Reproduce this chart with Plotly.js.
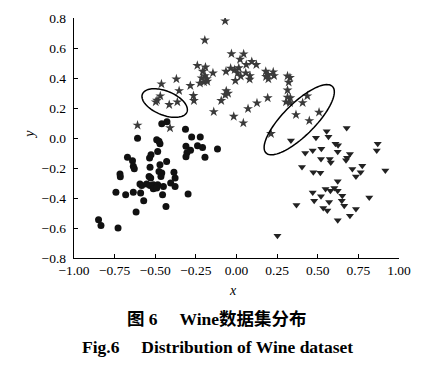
<!DOCTYPE html>
<html>
<head>
<meta charset="utf-8">
<script src="https://cdn.plot.ly/plotly-3.0.1.min.js"></script>
<style>html,body{margin:0;padding:0;background:#fff;}#chart{width:432px;height:372px;}</style>
</head>
<body>
<div id="chart"></div>
<script>
// ---- data ----
const starX = [-0.609,-0.462,-0.370,-0.353,-0.469,-0.489,-0.497,-0.414,-0.364,-0.409,-0.284,-0.265,-0.262,-0.241,-0.191,-0.208,-0.194,-0.215,-0.225,-0.180,-0.200,-0.182,-0.195,-0.145,-0.140,-0.094,-0.070,-0.065,-0.063,-0.052,-0.069,-0.031,-0.036,-0.017,-0.011,0.014,0.007,0.022,0.044,0.094,0.060,0.122,0.026,0.057,0.083,0.081,-0.007,0.180,0.194,0.226,0.231,0.182,0.196,0.314,0.329,0.321,0.314,0.314,0.331,0.305,0.329,0.126,0.192,0.071,0.042,0.366,0.212,0.407,0.436,0.508,0.448];
const starY = [0.085,0.360,0.393,0.315,0.280,0.251,0.240,0.222,0.240,0.067,0.349,0.282,0.249,0.483,0.472,0.444,0.415,0.400,0.365,0.377,0.373,0.395,0.652,0.433,0.175,0.249,0.780,0.444,0.314,0.297,0.287,0.561,0.465,0.144,0.455,0.467,0.433,0.524,0.560,0.509,0.489,0.489,0.411,0.433,0.415,0.391,0.382,0.444,0.422,0.440,0.415,0.409,0.393,0.413,0.402,0.371,0.319,0.271,0.267,0.240,0.235,0.233,0.267,0.195,0.100,0.155,0.029,0.235,0.280,0.171,0.115];

const circleX = [-0.609,-0.491,-0.477,-0.471,-0.460,-0.428,-0.314,-0.276,-0.223,-0.311,-0.283,-0.305,-0.311,-0.240,-0.209,-0.117,-0.194,-0.485,-0.526,-0.535,-0.671,-0.640,-0.635,-0.629,-0.717,-0.715,-0.532,-0.471,-0.430,-0.460,-0.477,-0.465,-0.538,-0.528,-0.594,-0.583,-0.553,-0.532,-0.512,-0.497,-0.485,-0.512,-0.491,-0.450,-0.455,-0.742,-0.682,-0.635,-0.590,-0.571,-0.434,-0.618,-0.849,-0.834,-0.729,-0.385,-0.378,-0.405,-0.378,-0.298];
const circleY = [-0.001,-0.011,-0.021,-0.038,0.095,0.109,0.059,0.007,0.007,-0.055,-0.081,-0.098,-0.125,-0.051,-0.063,-0.073,-0.129,-0.090,-0.111,-0.133,-0.129,-0.151,-0.189,-0.205,-0.240,-0.258,-0.195,-0.178,-0.156,-0.233,-0.223,-0.256,-0.256,-0.267,-0.307,-0.316,-0.307,-0.316,-0.311,-0.323,-0.311,-0.338,-0.333,-0.323,-0.378,-0.361,-0.378,-0.361,-0.367,-0.418,-0.456,-0.493,-0.545,-0.583,-0.600,-0.229,-0.267,-0.300,-0.323,-0.373];

const triX = [0.252,0.335,0.489,0.555,0.566,0.678,0.423,0.469,0.522,0.520,0.574,0.580,0.609,0.625,0.623,0.698,0.680,0.674,0.403,0.473,0.516,0.713,0.774,0.764,0.735,0.869,0.863,0.916,0.623,0.548,0.578,0.602,0.623,0.469,0.520,0.651,0.817,0.369,0.478,0.570,0.648,0.663,0.534,0.559,0.735,0.698,0.623];
const triY = [-0.651,-0.016,0.002,0.045,0.009,0.067,-0.100,-0.083,-0.071,-0.140,-0.140,-0.163,-0.038,-0.049,-0.091,-0.107,-0.131,-0.149,-0.193,-0.229,-0.231,-0.207,-0.185,-0.229,-0.256,-0.038,-0.083,-0.216,-0.289,-0.340,-0.351,-0.333,-0.351,-0.363,-0.389,-0.385,-0.396,-0.447,-0.418,-0.427,-0.418,-0.451,-0.467,-0.483,-0.473,-0.518,-0.549];

const xTicks = [-1.00,-0.75,-0.50,-0.25,0.00,0.25,0.50,0.75,1.00];
const yTicks = [-0.8,-0.6,-0.4,-0.2,0.0,0.2,0.4,0.6,0.8];

// ---- layout constants ----
const W = 432, H = 372;
const M = {l: 74, r: 33, t: 18, b: 114};
const xRange = [-1, 1], yRange = [-0.8, 0.8];
const plotW = W - M.l - M.r, plotH = H - M.t - M.b;
const pxPerX = plotW / (xRange[1] - xRange[0]);
const pxPerY = plotH / (yRange[1] - yRange[0]);

// ellipse annotations: centre in data units, semi-axes in pixels, angle in degrees
const ellipses = [
  {cx: -0.442, cy: 0.233, a: 24, b: 12, ang: -22},
  {cx: 0.386, cy: 0.122, a: 47, b: 16, ang: 45}
];
function ellipsePath(e) {
  const n = 90, th = e.ang * Math.PI / 180;
  let d = '';
  for (let i = 0; i <= n; i++) {
    const t = 2 * Math.PI * i / n;
    const px = e.a * Math.cos(t) * Math.cos(th) - e.b * Math.sin(t) * Math.sin(th);
    const py = e.a * Math.cos(t) * Math.sin(th) + e.b * Math.sin(t) * Math.cos(th);
    const x = e.cx + px / pxPerX, y = e.cy + py / pxPerY;
    d += (i === 0 ? 'M' : 'L') + x.toFixed(5) + ',' + y.toFixed(5) + ' ';
  }
  return d + 'Z';
}

const serif = 'Liberation Serif, Times New Roman, serif';
const cjk = 'Liberation Serif, Noto Sans CJK SC, serif';

const traces = [
  {x: starX, y: starY, type: 'scatter', mode: 'markers', name: 'class 2',
   marker: {symbol: 'star', size: 7.5, color: '#3a3a3a', line: {width: 0}}},
  {x: circleX, y: circleY, type: 'scatter', mode: 'markers', name: 'class 1',
   marker: {symbol: 'circle', size: 7, color: '#111111', line: {width: 0}}},
  {x: triX, y: triY, type: 'scatter', mode: 'markers', name: 'class 3',
   marker: {symbol: 'triangle-down', size: 7, color: '#222222', line: {width: 0}}}
];

const axisCommon = {
  showline: true, linecolor: '#000', linewidth: 1.2, mirror: false,
  showgrid: false, zeroline: false, ticks: 'inside', ticklen: 4, tickwidth: 1,
  tickcolor: '#000', tickfont: {family: serif, size: 13.5, color: '#000'}
};

const layout = {
  width: W, height: H, margin: M, showlegend: false,
  paper_bgcolor: '#fff', plot_bgcolor: '#fff',
  xaxis: Object.assign({}, axisCommon, {range: xRange, tickvals: xTicks, tickformat: '.2f'}),
  yaxis: Object.assign({}, axisCommon, {range: yRange, tickvals: yTicks, tickformat: '.1f', ticklabelstandoff: 4}),
  shapes: ellipses.map(e => ({type: 'path', xref: 'x', yref: 'y', path: ellipsePath(e),
                              line: {color: '#000', width: 1.5}, fillcolor: 'rgba(0,0,0,0)'})),
  annotations: [
    {text: '<i>x</i>', xref: 'paper', yref: 'paper', x: 0.489, y: -0.137, showarrow: false,
     xanchor: 'center', yanchor: 'middle', font: {family: serif, size: 14, color: '#000'}},
    {text: '<i>y</i>', xref: 'paper', yref: 'paper', x: -0.135, y: 0.514, showarrow: false, textangle: -90,
     xanchor: 'center', yanchor: 'middle', font: {family: serif, size: 14, color: '#000'}},
    {text: '<b>图 6\u2003 Wine数据集分布</b>', xref: 'paper', yref: 'paper', x: 0.439, y: -0.254, showarrow: false,
     xanchor: 'center', yanchor: 'middle', font: {family: cjk, size: 17.5, color: '#000'}},
    {text: '<b>Fig.6\u2003 Distribution of Wine dataset</b>', xref: 'paper', yref: 'paper', x: 0.441, y: -0.371, showarrow: false,
     xanchor: 'center', yanchor: 'middle', font: {family: serif, size: 17.5, color: '#000'}}
  ]
};

Plotly.newPlot('chart', traces, layout, {displayModeBar: false, staticPlot: true});
</script>
</body>
</html>
